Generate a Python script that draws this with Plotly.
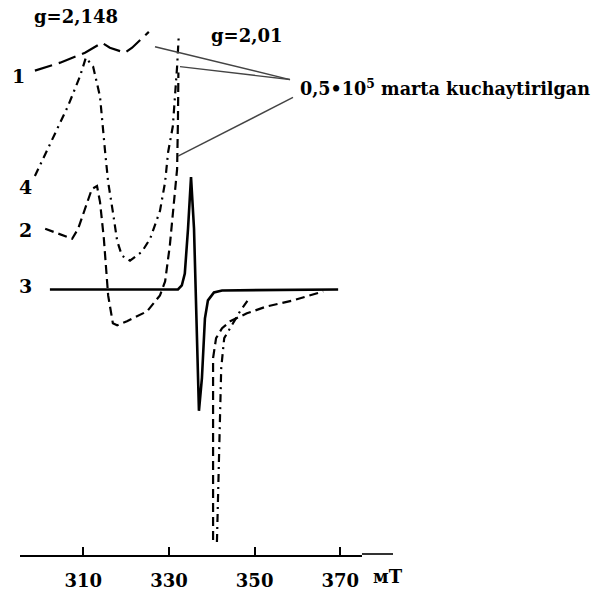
import plotly.graph_objects as go

# ---- data (field in mT, signal in arbitrary units) ----
field_1 = [298.7, 304.6, 310.4, 314.4, 316.2, 318.1, 319.7, 321.4, 325.3]
sig_1 = [487, 495, 505, 515, 510, 507, 505, 510, 526]

field_4 = [298.7, 303.4, 306.4, 309.2, 310.6, 312.3, 313.9, 315.1, 315.8, 316.9, 317.9,
           319.0, 320.9, 323.7, 325.6, 327.9, 329.1, 329.8, 330.9, 331.9, 332.3,
           None,
           341.2, 341.7, 342.2, 342.9, 344.7, 346.6, 348.9]
sig_4 = [381, 423, 451, 481, 500, 491, 461, 405, 375, 345, 316,
         301, 296, 305, 318, 346, 375, 405, 431, 491, 523,
         None,
         13, 108, 188, 218, 231, 245, 259]

field_2 = [301.1, 304.6, 307.4, 308.8, 309.9, 312.0, 313.2, 313.9, 314.8, 315.8, 316.9,
           317.9, 320.2, 324.9, 327.9, 329.1, 330.2, 330.9, 331.9, 332.1, 332.2,
           None,
           340.3, 340.3, 340.3, 341.0, 342.4, 344.3, 348.2, 352.9, 359.0, 366.0]
sig_2 = [328, 322, 318, 328, 341, 368, 371, 355, 318, 261, 233,
         231, 235, 245, 261, 275, 311, 341, 388, 438, 485,
         None,
         15, 108, 198, 218, 228, 235, 243, 250, 256, 265]

field_3 = [302.2, 332.1, 333.0, 333.7, 334.45, 335.15, 335.85, 336.55, 337.0, 337.7,
           338.4, 339.1, 340.5, 342.4, 369.5]
sig_3 = [267, 267, 271, 283, 328, 380, 328, 208, 145, 178, 238, 256, 264, 266, 267]

tick_vals = [310, 330, 350, 370]
tick_text = ["310", "330", "350", "370"]

FONT = "DejaVu Serif"

fig = go.Figure()
fig.add_trace(go.Scatter(x=field_1, y=sig_1, mode="lines",
                         line=dict(color="black", width=2.2, dash="18px,7px")))
fig.add_trace(go.Scatter(x=field_4, y=sig_4, mode="lines", connectgaps=False,
                         line=dict(color="black", width=2.2, dash="8px,5px,2px,5px")))
fig.add_trace(go.Scatter(x=field_2, y=sig_2, mode="lines", connectgaps=False,
                         line=dict(color="black", width=2.2, dash="9px,5px")))
fig.add_trace(go.Scatter(x=field_3, y=sig_3, mode="lines",
                         line=dict(color="black", width=2.6)))

def px(xp):
    return (xp - 20) / 342.0

def py(yp):
    return (558 - yp) / 558.0

shapes = []
for (x0, y0, x1, y1) in [(155, 47, 290, 80), (180, 67, 290, 80), (178, 157, 293, 98)]:
    shapes.append(dict(type="line", xref="paper", yref="paper",
                       x0=px(x0), y0=py(y0), x1=px(x1), y1=py(y1),
                       line=dict(color="#444", width=1.4)))
shapes.append(dict(type="line", xref="paper", yref="paper",
                   x0=px(362), y0=py(557), x1=px(393), y1=py(557),
                   line=dict(color="#333", width=2)))

annotations = []
def label(text, xp, yp, size=19, xanchor="center"):
    annotations.append(dict(text=text, xref="paper", yref="paper", x=px(xp), y=py(yp),
                            xanchor=xanchor, yanchor="middle", showarrow=False,
                            font=dict(family=FONT, size=size, color="black")))

label("<b>g=2,148</b>", 76, 17, 18)
label("<b>g=2,01</b>", 247, 36, 18)
label("<b>1</b>", 18, 76, 19)
label("<b>4</b>", 25, 188, 19)
label("<b>2</b>", 25, 231, 19)
label("<b>3</b>", 25, 288, 19)
label("<b>0,5•10<sup>5</sup> marta kuchaytirilgan</b>", 298, 88, 17.6, "left")
label("<b>мТ</b>", 388, 580, 18)

fig.update_layout(
    width=592, height=591,
    margin=dict(l=20, r=230, t=0, b=33),
    paper_bgcolor="white", plot_bgcolor="white",
    showlegend=False,
    shapes=shapes, annotations=annotations,
    xaxis=dict(range=[295.22, 375.07], showgrid=False, zeroline=False,
               showline=True, linecolor="black", linewidth=2,
               ticks="inside", ticklen=8, tickwidth=2, tickcolor="black",
               tickvals=tick_vals, ticktext=["<b>%s</b>" % t for t in tick_text],
               tickfont=dict(family=FONT, size=18, color="black"),
               ticklabelstandoff=8),
    yaxis=dict(range=[0, 558], visible=False, showgrid=False, zeroline=False),
)

fig.write_html("out.html")
